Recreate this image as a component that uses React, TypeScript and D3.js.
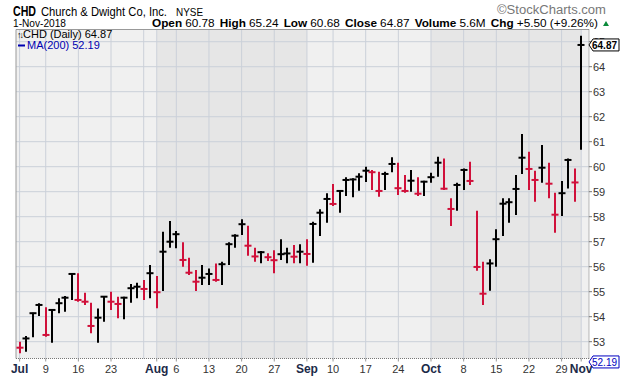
import React from "react";
import * as d3 from "d3";

const dates = [
  "2018-07-02","2018-07-03","2018-07-05","2018-07-06",
  "2018-07-09","2018-07-10","2018-07-11","2018-07-12","2018-07-13",
  "2018-07-16","2018-07-17","2018-07-18","2018-07-19","2018-07-20",
  "2018-07-23","2018-07-24","2018-07-25","2018-07-26","2018-07-27",
  "2018-07-30","2018-07-31","2018-08-01","2018-08-02","2018-08-03",
  "2018-08-06","2018-08-07","2018-08-08","2018-08-09","2018-08-10",
  "2018-08-13","2018-08-14","2018-08-15","2018-08-16","2018-08-17",
  "2018-08-20","2018-08-21","2018-08-22","2018-08-23","2018-08-24",
  "2018-08-27","2018-08-28","2018-08-29","2018-08-30","2018-08-31",
  "2018-09-04","2018-09-05","2018-09-06","2018-09-07",
  "2018-09-10","2018-09-11","2018-09-12","2018-09-13","2018-09-14",
  "2018-09-17","2018-09-18","2018-09-19","2018-09-20","2018-09-21",
  "2018-09-24","2018-09-25","2018-09-26","2018-09-27","2018-09-28",
  "2018-10-01","2018-10-02","2018-10-03","2018-10-04","2018-10-05",
  "2018-10-08","2018-10-09","2018-10-10","2018-10-11","2018-10-12",
  "2018-10-15","2018-10-16","2018-10-17","2018-10-18","2018-10-19",
  "2018-10-22","2018-10-23","2018-10-24","2018-10-25","2018-10-26",
  "2018-10-29","2018-10-30","2018-10-31","2018-11-01",
];

const highs = [
  53.0, 53.23, 54.16, 54.54, 54.38, 54.3, 54.74, 54.83, 55.74, 55.74,
  54.96, 54.56, 54.33, 54.83, 55.0, 54.8, 54.8, 55.31, 55.36, 55.47,
  56.07, 55.63, 57.4, 57.83, 57.43, 56.98, 56.36, 55.87, 56.07, 55.93,
  56.13, 56.2, 56.98, 57.3, 57.9, 57.64, 56.76, 56.63, 56.54, 56.66,
  57.1, 56.76, 56.87, 56.9, 57.1, 57.8, 58.3, 58.94, 59.31, 59.04,
  59.58, 59.54, 59.74, 60.0, 59.87, 59.8, 59.8, 60.38, 60.16, 59.67,
  59.87, 59.58, 59.44, 59.76, 60.4, 60.33, 58.74, 59.36, 59.93, 60.2,
  58.24, 56.2, 56.3, 57.5, 58.74, 58.74, 59.67, 61.31, 60.6, 59.84,
  60.87, 60.16, 58.96, 59.43, 60.33, 59.93, 65.24,
];

const lows = [
  52.54, 52.6, 53.18, 54.03, 53.2, 52.96, 54.14, 54.2, 54.67, 54.6,
  54.47, 53.34, 52.96, 53.8, 54.27, 53.94, 53.9, 54.56, 54.74, 54.67,
  54.74, 54.34, 55.03, 56.76, 56.74, 56.0, 55.67, 55.03, 55.27, 55.27,
  55.4, 55.27, 56.07, 56.76, 57.27, 56.44, 56.2, 56.14, 56.23, 55.74,
  56.27, 56.14, 56.14, 56.14, 56.04, 56.16, 57.23, 57.76, 58.43, 58.16,
  58.83, 58.78, 59.04, 59.39, 59.07, 58.8, 59.07, 59.78, 58.87, 58.96,
  59.0, 58.83, 58.83, 59.36, 59.6, 59.07, 57.63, 58.24, 59.07, 59.27,
  55.84, 54.47, 55.04, 56.0, 57.23, 57.76, 58.07, 59.71, 59.07, 58.6,
  59.36, 58.74, 57.36, 58.03, 59.13, 58.6, 60.68,
];

const closes = [
  52.76, 53.13, 54.14, 54.47, 53.27, 54.27, 54.54, 54.76, 55.71, 54.67,
  54.6, 53.63, 53.96, 54.8, 54.6, 54.51, 54.76, 55.14, 55.2, 55.11,
  55.74, 54.98, 56.6, 57.0, 57.3, 56.27, 55.76, 55.4, 55.56, 55.71,
  55.47, 56.1, 56.9, 57.24, 57.7, 56.84, 56.41, 56.58, 56.38, 56.26,
  56.5, 56.53, 56.4, 56.6, 56.51, 57.71, 58.16, 58.71, 58.51, 59.03,
  59.47, 59.49, 59.6, 59.84, 59.78, 59.03, 59.71, 60.11, 59.14, 59.03,
  59.44, 58.92, 59.4, 59.58, 60.16, 59.12, 58.31, 59.27, 59.87, 59.43,
  55.99, 54.92, 56.13, 57.1, 58.52, 58.58, 59.11, 60.36, 59.91, 59.47,
  59.96, 59.32, 58.08, 58.94, 60.27, 59.37, 64.87,
];

const prevClose = 53.05;

const tickDates = [
  "2018-07-02","2018-07-09","2018-07-16","2018-07-23","2018-08-01",
  "2018-08-06","2018-08-13","2018-08-20","2018-08-27","2018-09-04",
  "2018-09-10","2018-09-17","2018-09-24","2018-10-01","2018-10-08",
  "2018-10-15","2018-10-22","2018-10-29","2018-11-01",
];
const tickLabels = [
  "Jul","9","16","23","Aug","6","13","20","27","Sep",
  "10","17","24","Oct","8","15","22","29","Nov",
];
const monthLabels = ["Jul","Aug","Sep","Oct","Nov"];
const extraGridDates = ["2018-07-30"];
const monthStarts = ["2018-07-02","2018-08-01","2018-09-04","2018-10-01","2018-11-01"];
const yTicks = [53, 54, 55, 56, 57, 58, 59, 60, 61, 62, 63, 64, 65];

const lastClose = 64.87;
const maValue = 52.19;

const W = 620;
const H = 376;
const L = 16;
const R = 589;
const T = 29.5;
const B = 358.5;

const FONT = "'Liberation Sans', Arial, sans-serif";
const RED = "#d0103a";
const GRID = "#cbd0d9";
const LIGHT = "#f0f0f0";
const DARK = "#e6e6e6";

export default function App() {
  const x = d3.scalePoint<string>().domain(dates).range([19.6, 581.2]);
  const y = d3.scaleLinear().domain([52.328, 65.488]).range([B, T]);

  const xs = (d: string) => x(d) as number;

  const shadeBounds = monthStarts.map((d, i) => (i === 0 ? L : xs(d)));
  const shades = shadeBounds.map((x0, i) => ({
    x0,
    x1: i + 1 < shadeBounds.length ? shadeBounds[i + 1] : R,
    fill: i % 2 === 0 ? LIGHT : DARK,
  }));

  const gridDates = [...tickDates, ...extraGridDates];

  const yLast = y(lastClose);
  const yMa = Math.min(y(maValue), 367);

  return (
    <div style={{ position: "fixed", left: 0, top: 0 }}>
      <svg width={W} height={H} style={{ display: "block", background: "#fff" }} fontFamily={FONT}>
        {/* header */}
        <text x={13} y={15.5} fontSize={15} fontWeight="bold" fill="#000" textLength={23} lengthAdjust="spacingAndGlyphs">CHD</text>
        <text x={41} y={15.5} fontSize={12.5} fill="#000" textLength={126} lengthAdjust="spacingAndGlyphs">Church &amp; Dwight Co, Inc.</text>
        <text x={176} y={15.5} fontSize={11} fill="#000" textLength={27} lengthAdjust="spacingAndGlyphs">NYSE</text>
        <text x={497} y={14} fontSize={12} fill="#777" textLength={109} lengthAdjust="spacingAndGlyphs">©StockCharts.com</text>
        <text x={13} y={27} fontSize={11.5} fill="#000" textLength={53} lengthAdjust="spacingAndGlyphs">1-Nov-2018</text>
        <text x={152} y={27} fontSize={11.5} fill="#000" textLength={446} lengthAdjust="spacingAndGlyphs">
          <tspan fontWeight="bold">Open</tspan>
          <tspan dx={3}>60.78</tspan>
          <tspan dx={5} fontWeight="bold">High</tspan>
          <tspan dx={3}>65.24</tspan>
          <tspan dx={5} fontWeight="bold">Low</tspan>
          <tspan dx={3}>60.68</tspan>
          <tspan dx={5} fontWeight="bold">Close</tspan>
          <tspan dx={3}>64.87</tspan>
          <tspan dx={5} fontWeight="bold">Volume</tspan>
          <tspan dx={3}>5.6M</tspan>
          <tspan dx={5} fontWeight="bold">Chg</tspan>
          <tspan dx={3}>+5.50 (+9.26%)</tspan>
        </text>
        <path d="M603,26 L606,21 L609,26 Z" fill="#0a8a3a" />

        {/* plot background */}
        {shades.map((s, i) => (
          <rect key={i} x={s.x0} y={T} width={s.x1 - s.x0} height={B - T} fill={s.fill} />
        ))}

        {/* grid */}
        {yTicks.map((v) => (
          <line key={v} x1={L} x2={R} y1={y(v)} y2={y(v)} stroke={GRID} strokeWidth={1} />
        ))}
        {gridDates.map((d) => (
          <line key={d} x1={xs(d)} x2={xs(d)} y1={T} y2={B} stroke={GRID} strokeWidth={1} />
        ))}

        {/* border */}
        <line x1={L} x2={L} y1={T} y2={B} stroke="#999" />
        <line x1={L} x2={R} y1={T} y2={T} stroke="#999" />
        <line x1={R} x2={R} y1={T} y2={B} stroke="#777" strokeDasharray="1,1" />
        <line x1={L} x2={R} y1={B} y2={B} stroke="#777" strokeDasharray="1,1" />

        {/* bars */}
        {dates.map((d, i) => {
          const prev = i === 0 ? prevClose : closes[i - 1];
          const color = closes[i] >= prev ? "#000" : RED;
          const cx = Math.round(xs(d));
          const yc = y(closes[i]);
          return (
            <g key={d}>
              <line x1={cx} x2={cx} y1={y(highs[i])} y2={y(lows[i])} stroke={color} strokeWidth={2} />
              <line x1={cx - 3.5} x2={cx + 3.5} y1={yc} y2={yc} stroke={color} strokeWidth={2} />
            </g>
          );
        })}

        {/* legend */}
        <text x={17} y={38} fontSize={11} fill="#000">
          <tspan fontSize={9} letterSpacing={-2}>↑↓</tspan>
          <tspan dx={1}>CHD (Daily) 64.87</tspan>
        </text>
        <line x1={18} x2={25} y1={45.5} y2={45.5} stroke="#0000b0" strokeWidth={2} />
        <text x={27} y={49} fontSize={11} fill="#0000b0">MA(200) 52.19</text>

        {/* y axis */}
        {yTicks.map((v) => (
          <g key={v}>
            <line x1={R} x2={R + 3} y1={y(v)} y2={y(v)} stroke="#777" />
            <text x={R + 4} y={y(v) + 4} fontSize={11} fill="#333">{v}</text>
          </g>
        ))}

        {/* last price box */}
        <path
          d={`M${R},${yLast} L${R + 4},${yLast - 6} L${W - 1},${yLast - 6} L${W - 1},${yLast + 6} L${R + 4},${yLast + 6} Z`}
          fill="#fff"
          stroke="#000"
          strokeWidth={1}
        />
        <text x={592} y={yLast + 4} fontSize={11} fontWeight="bold" fill="#000" textLength={25} lengthAdjust="spacingAndGlyphs">{lastClose.toFixed(2)}</text>

        {/* MA box */}
        <path
          d={`M${R},${yMa} L${R + 4},${yMa - 6} L${W - 1},${yMa - 6} L${W - 1},${yMa + 6} L${R + 4},${yMa + 6} Z`}
          fill="#fff"
          stroke="#0000c0"
          strokeWidth={1}
        />
        <text x={592} y={yMa + 4} fontSize={11} fill="#0000c0" textLength={25} lengthAdjust="spacingAndGlyphs">{maValue.toFixed(2)}</text>

        {/* x axis labels */}
        {tickDates.map((d, i) => {
          const lab = tickLabels[i];
          const isMonth = monthLabels.includes(lab);
          return (
            <g key={d}>
              <line x1={xs(d)} x2={xs(d)} y1={B} y2={B + 3} stroke="#999" />
              <text
                x={xs(d)}
                y={373}
                fontSize={isMonth ? 12 : 11}
                fontWeight={isMonth ? "bold" : "normal"}
                fill={isMonth ? "#1c2a48" : "#333"}
                textAnchor="middle"
              >
                {lab}
              </text>
            </g>
          );
        })}
      </svg>
    </div>
  );
}
